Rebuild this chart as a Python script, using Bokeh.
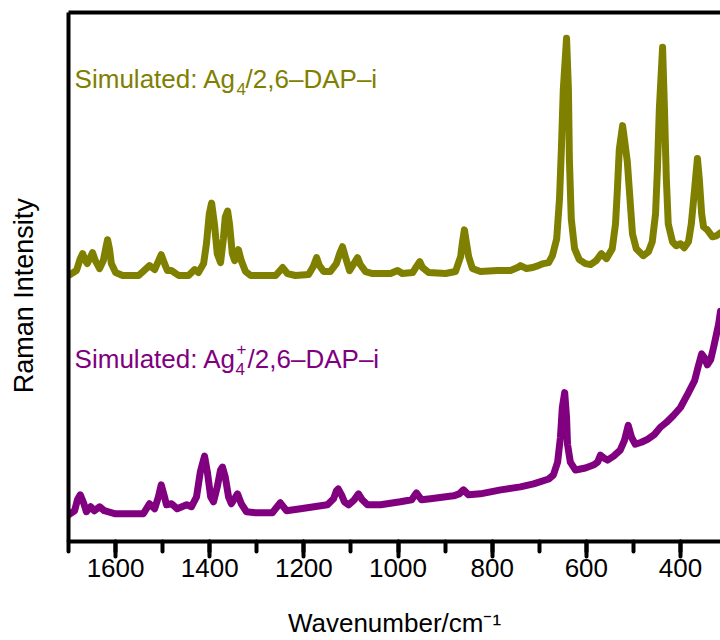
from bokeh.plotting import figure
from bokeh.models import Range1d, SingleIntervalTicker, FixedTicker, LinearAxis, Label
from bokeh.embed import file_html
from bokeh.resources import INLINE

# ---- data ----
olive_wn = [1700, 1683, 1675, 1670, 1664, 1660, 1653, 1649, 1643, 1634, 1626, 1621, 1617, 1613, 1609,
            1600, 1585, 1551, 1528, 1517, 1503, 1496, 1490, 1481, 1466, 1445, 1432, 1424, 1413, 1407,
            1401, 1396, 1390, 1384, 1377, 1371, 1367, 1362, 1358, 1352, 1347, 1339, 1333, 1324, 1313,
            1260, 1245, 1235, 1218, 1190, 1180, 1173, 1167, 1158, 1144, 1131, 1124, 1118, 1112, 1103,
            1095, 1086, 1080, 1069, 1054, 1016, 1001, 991, 969, 961, 954, 948, 935, 899, 878, 867, 863,
            859, 855, 850, 842, 825, 789, 761, 746, 740, 727, 714, 702, 691, 680, 672, 663, 657, 653,
            649, 642, 638, 636, 632, 625, 615, 602, 591, 579, 568, 557, 545, 538, 534, 530, 523, 519,
            513, 508, 502, 494, 479, 468, 460, 453, 449, 445, 438, 434, 430, 426, 417, 409, 400, 392,
            383, 377, 370, 364, 360, 355, 351, 343, 332, 324, 315]
olive_int = [268, 273, 285, 290, 283, 280, 287, 291, 283, 275, 283, 295, 304, 295, 280,
             271, 268, 268, 278, 274, 289, 280, 273, 273, 268, 268, 274, 271, 280, 300,
             330, 341, 320, 290, 281, 305, 327, 333, 320, 290, 283, 294, 283, 272, 268,
             268, 276, 270, 268, 269, 277, 286, 278, 272, 272, 280, 290, 297, 287, 273,
             279, 286, 279, 272, 270, 270, 273, 270, 271, 277, 282, 276, 271, 270, 272, 287, 302,
             314, 302, 287, 275, 272, 273, 273, 276, 278, 275, 276, 278, 280, 281, 288, 305, 345, 395,
             455, 507, 455, 385, 325, 295, 284, 280, 279, 283, 290, 285, 295, 320, 355, 395, 419, 405,
             383, 350, 310, 295, 288, 292, 302, 330, 375, 435, 498, 435, 365, 320, 302, 298, 300, 296,
             302, 320, 355, 386, 365, 330, 317, 314, 307, 308, 311]

purple_wn = [1700, 1687, 1681, 1675, 1668, 1662, 1653, 1645, 1634, 1624, 1602, 1541, 1528, 1517, 1509,
             1503, 1496, 1492, 1481, 1469, 1449, 1439, 1428, 1420, 1411, 1405, 1398, 1392, 1384, 1377,
             1373, 1367, 1360, 1354, 1341, 1333, 1322, 1303, 1267, 1250, 1237, 1207, 1150, 1137, 1131,
             1127, 1120, 1114, 1105, 1093, 1084, 1076, 1065, 1037, 995, 971, 961, 950, 931, 882, 870,
             861, 850, 825, 782, 740, 712, 680, 670, 661, 655, 651, 646, 642, 640, 634, 623, 602, 585,
             576, 570, 562, 555, 542, 528, 519, 511, 504, 496, 483, 470, 455, 443, 430, 415, 400, 383,
             370, 362, 355, 349, 343, 336, 330, 324, 319, 315]
purple_int = [27, 31, 42, 47, 39, 30, 35, 31, 35, 31, 28, 28, 38, 33, 45,
              57, 45, 37, 38, 33, 37, 35, 45, 70, 86, 70, 45, 40, 55, 72,
              75, 65, 45, 38, 48, 38, 30, 29, 29, 39, 31, 33, 37, 43, 51,
              53, 47, 40, 37, 42, 48, 42, 37, 37, 40, 42, 49, 42, 43, 46, 48,
              52, 47, 48, 52, 55, 58, 63, 67, 80, 105, 135, 150, 125, 98, 80, 72, 74, 77,
              80, 87, 84, 82, 86, 92, 102, 117, 105, 98, 100, 103, 108, 115, 120, 127, 135, 150,
              162, 177, 189, 185, 178, 183, 195, 208, 219, 232]

x_start, x_end = 1700, 315
y_start, y_end = 0, 533
tick_interval = 200

olive_text = ["Simulated: Ag", "4", "/2,6\u2013DAP\u2013i"]
purple_text = ["Simulated: Ag", "4", "+", "/2,6\u2013DAP\u2013i"]

OLIVE = "#808000"
PURPLE = "#800080"
FONT = "Liberation Sans"

p = figure(width=720, height=640, output_backend="svg", toolbar_location=None,
           x_range=Range1d(x_start, x_end), y_range=Range1d(y_start, y_end),
           min_border_left=68, min_border_right=0, min_border_top=12, min_border_bottom=95)
p.grid.visible = False
p.outline_line_color = None
p.background_fill_color = "white"
p.border_fill_color = "white"

p.line(olive_wn, olive_int, line_color=OLIVE, line_width=7, line_join="round", line_cap="round")
p.line(purple_wn, purple_int, line_color=PURPLE, line_width=7, line_join="round", line_cap="round")

xa = p.xaxis[0]
xa.ticker = SingleIntervalTicker(interval=tick_interval, num_minor_ticks=2)
xa.axis_line_width = 4
xa.axis_line_color = "black"
xa.major_tick_line_width = 4
xa.minor_tick_line_width = 4
xa.major_tick_line_cap = "round"
xa.minor_tick_line_cap = "round"
xa.major_tick_in = 0
xa.major_tick_out = 15
xa.minor_tick_in = 0
xa.minor_tick_out = 10
xa.major_label_text_font = FONT
xa.major_label_text_font_size = "26px"
xa.major_label_text_color = "black"
xa.major_label_standoff = 2
xa.axis_label = "Wavenumber/cm\u207b\u00b9"
xa.axis_label_text_font = FONT
xa.axis_label_text_font_size = "26px"
xa.axis_label_text_font_style = "normal"
xa.axis_label_text_color = "black"
xa.axis_label_standoff = 28

ya = p.yaxis[0]
ya.ticker = FixedTicker(ticks=[])
ya.axis_line_width = 4
ya.axis_line_color = "black"
ya.major_tick_out = 0
ya.major_tick_in = 0
ya.minor_tick_out = 0
ya.minor_tick_in = 0
ya.axis_label = "Raman Intensity" + "\u00a0" * 5
ya.axis_label_text_font = FONT
ya.axis_label_text_font_size = "27px"
ya.axis_label_text_font_style = "normal"
ya.axis_label_text_color = "black"
ya.axis_label_standoff = 30

top = LinearAxis(ticker=FixedTicker(ticks=[]), axis_line_width=4, axis_line_color="black",
                 major_tick_out=0, major_tick_in=0, minor_tick_out=0, minor_tick_in=0)
p.add_layout(top, "above")

def piece(x, y, text, color, size, xo, yo):
    p.add_layout(Label(x=x, y=y, text=text, text_color=color, text_font=FONT,
                       text_font_size=size, text_baseline="alphabetic", text_align="left",
                       x_offset=xo, y_offset=yo))

lab_x = 1687
piece(lab_x, 466, olive_text[0], OLIVE, "26px", 0, 0)
piece(lab_x, 466, olive_text[1], OLIVE, "17px", 162, -10)
piece(lab_x, 466, olive_text[2], OLIVE, "26px", 171, 0)

piece(lab_x, 184, purple_text[0], PURPLE, "26px", 0, 0)
piece(lab_x, 184, purple_text[1], PURPLE, "17px", 161, -10)
piece(lab_x, 184, purple_text[2], PURPLE, "17px", 162, 10)
piece(lab_x, 184, purple_text[3], PURPLE, "26px", 173, 0)

open("out.html", "w").write(file_html(p, INLINE))
